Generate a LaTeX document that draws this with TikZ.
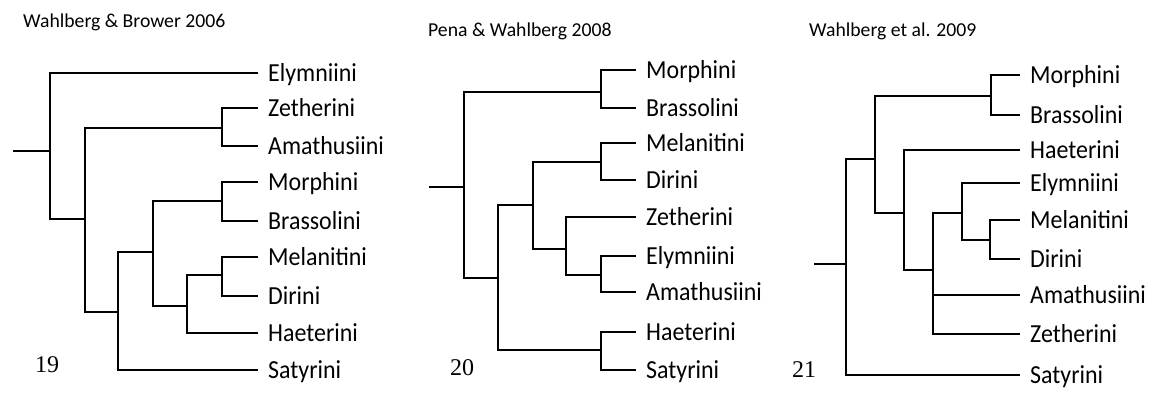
\documentclass[tikz,border=0pt]{standalone}
\usepackage{fontspec}
\setmainfont{Carlito}
\newfontfamily\taxfont{Carlito}[FakeStretch=0.92]
\newfontfamily\numfont{Liberation Serif}
\tikzset{
  branch/.style={line width=1.8pt, line cap=rect},
  taxon/.style={anchor=base west, inner sep=0pt, xshift=11pt, yshift=-8.5pt,
    font=\taxfont\fontsize{26}{30}\selectfont},
  study/.style={anchor=base west, inner sep=0pt, font=\fontsize{19.7}{23}\selectfont},
  fignum/.style={anchor=base west, inner sep=0pt, font=\numfont\fontsize{24}{28}\selectfont},
}

\begin{document}
\begin{tikzpicture}[x=1pt, y=-1pt]
  \useasboundingbox (0,0) rectangle (1160,392);

  % ---- 19: Wahlberg & Brower 2006
  \node[study] (a-title) at (23,27) {Wahlberg \& Brower 2006};
  \node[fignum] (a-num) at (35,372) {19};
  % tips and taxon names
  \path (257,73)  coordinate (a-ely) node[taxon] (a-ely-l) {Elymniini};
  \path (257,108) coordinate (a-zet) node[taxon] (a-zet-l) {Zetherini};
  \path (257,146) coordinate (a-ama) node[taxon] (a-ama-l) {Amathusiini};
  \path (257,182) coordinate (a-mor) node[taxon] (a-mor-l) {Morphini};
  \path (257,221) coordinate (a-bra) node[taxon] (a-bra-l) {Brassolini};
  \path (257,257) coordinate (a-mel) node[taxon] (a-mel-l) {Melanitini};
  \path (257,296) coordinate (a-dir) node[taxon] (a-dir-l) {Dirini};
  \path (257,333) coordinate (a-hae) node[taxon] (a-hae-l) {Haeterini};
  \path (257,370) coordinate (a-sat) node[taxon] (a-sat-l) {Satyrini};
  % internal nodes
  \coordinate (a-stem) at (14,151);
  \coordinate (a-root) at (50,151);
  \coordinate (a-n1) at (85,219);
  \coordinate (a-za) at (222,128);
  \coordinate (a-n2) at (118,312);
  \coordinate (a-n3) at (153,252);
  \coordinate (a-mb) at (222,201);
  \coordinate (a-n4) at (187,306);
  \coordinate (a-md) at (222,275);
  \draw[branch] (a-stem) -- (a-root);
  \draw[branch] (a-root) |- (a-ely) (a-root) |- (a-n1);
  \draw[branch] (a-n1) |- (a-za) (a-n1) |- (a-n2);
  \draw[branch] (a-za) |- (a-zet) (a-za) |- (a-ama);
  \draw[branch] (a-n2) |- (a-n3) (a-n2) |- (a-sat);
  \draw[branch] (a-n3) |- (a-mb) (a-n3) |- (a-n4);
  \draw[branch] (a-mb) |- (a-mor) (a-mb) |- (a-bra);
  \draw[branch] (a-n4) |- (a-md) (a-n4) |- (a-hae);
  \draw[branch] (a-md) |- (a-mel) (a-md) |- (a-dir);

  % ---- 20: Pena & Wahlberg 2008
  \node[study] (b-title) at (428,36) {Pena \& Wahlberg 2008};
  \node[fignum] (b-num) at (450,375) {20};
  \path (635,70)  coordinate (b-mor) node[taxon] (b-mor-l) {Morphini};
  \path (635,108) coordinate (b-bra) node[taxon] (b-bra-l) {Brassolini};
  \path (635,143) coordinate (b-mel) node[taxon] (b-mel-l) {Melanitini};
  \path (635,180) coordinate (b-dir) node[taxon] (b-dir-l) {Dirini};
  \path (635,217) coordinate (b-zet) node[taxon] (b-zet-l) {Zetherini};
  \path (635,256) coordinate (b-ely) node[taxon] (b-ely-l) {Elymniini};
  \path (635,292) coordinate (b-ama) node[taxon] (b-ama-l) {Amathusiini};
  \path (635,332) coordinate (b-hae) node[taxon] (b-hae-l) {Haeterini};
  \path (635,370) coordinate (b-sat) node[taxon] (b-sat-l) {Satyrini};
  \coordinate (b-stem) at (430,187);
  \coordinate (b-root) at (464,187);
  \coordinate (b-mb) at (601,92);
  \coordinate (b-n1) at (498,278);
  \coordinate (b-hs) at (601,350);
  \coordinate (b-n2) at (533,205);
  \coordinate (b-md) at (601,162);
  \coordinate (b-n3) at (566,249);
  \coordinate (b-ea) at (601,275);
  \draw[branch] (b-stem) -- (b-root);
  \draw[branch] (b-root) |- (b-mb) (b-root) |- (b-n1);
  \draw[branch] (b-mb) |- (b-mor) (b-mb) |- (b-bra);
  \draw[branch] (b-n1) |- (b-n2) (b-n1) |- (b-hs);
  \draw[branch] (b-hs) |- (b-hae) (b-hs) |- (b-sat);
  \draw[branch] (b-n2) |- (b-md) (b-n2) |- (b-n3);
  \draw[branch] (b-md) |- (b-mel) (b-md) |- (b-dir);
  \draw[branch] (b-n3) |- (b-zet) (b-n3) |- (b-ea);
  \draw[branch] (b-ea) |- (b-ely) (b-ea) |- (b-ama);

  % ---- 21: Wahlberg et al. 2009
  \node[study] (c-title) at (809,36) {Wahlberg et al. 2009};
  \node[fignum] (c-num) at (792,377) {21};
  \path (1019,75)  coordinate (c-mor) node[taxon] (c-mor-l) {Morphini};
  \path (1019,115) coordinate (c-bra) node[taxon] (c-bra-l) {Brassolini};
  \path (1019,150) coordinate (c-hae) node[taxon] (c-hae-l) {Haeterini};
  \path (1019,183) coordinate (c-ely) node[taxon] (c-ely-l) {Elymniini};
  \path (1019,220) coordinate (c-mel) node[taxon] (c-mel-l) {Melanitini};
  \path (1019,259) coordinate (c-dir) node[taxon] (c-dir-l) {Dirini};
  \path (1019,295) coordinate (c-ama) node[taxon] (c-ama-l) {Amathusiini};
  \path (1019,334) coordinate (c-zet) node[taxon] (c-zet-l) {Zetherini};
  \path (1019,375) coordinate (c-sat) node[taxon] (c-sat-l) {Satyrini};
  \coordinate (c-stem) at (815,264);
  \coordinate (c-root) at (846,264);
  \coordinate (c-n1) at (875,159);
  \coordinate (c-mb) at (991,96);
  \coordinate (c-n2) at (904,213);
  \coordinate (c-n3) at (933,270);
  \coordinate (c-n4) at (962,213);
  \coordinate (c-md) at (990,240);
  \draw[branch] (c-stem) -- (c-root);
  \draw[branch] (c-root) |- (c-n1) (c-root) |- (c-sat);
  \draw[branch] (c-n1) |- (c-mb) (c-n1) |- (c-n2);
  \draw[branch] (c-mb) |- (c-mor) (c-mb) |- (c-bra);
  \draw[branch] (c-n2) |- (c-hae) (c-n2) |- (c-n3);
  \draw[branch] (c-n3) |- (c-n4) (c-n3) |- (c-ama) (c-n3) |- (c-zet);
  \draw[branch] (c-n4) |- (c-ely) (c-n4) |- (c-md);
  \draw[branch] (c-md) |- (c-mel) (c-md) |- (c-dir);
\end{tikzpicture}
\end{document}
